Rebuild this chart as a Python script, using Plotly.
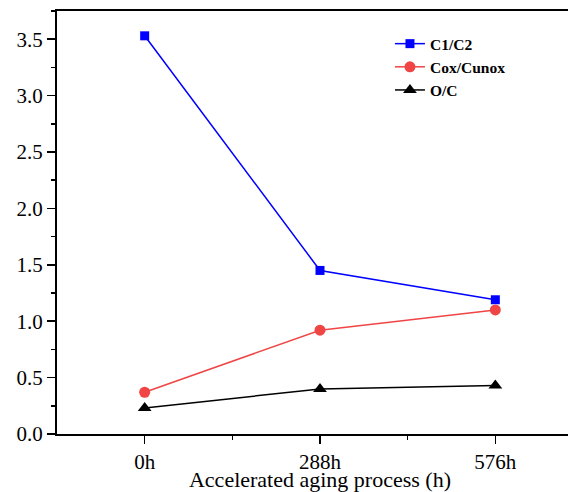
import plotly.graph_objects as go

categories = ["0h", "288h", "576h"]
c1_c2 = [3.53, 1.45, 1.19]
cox_cunox = [0.37, 0.92, 1.10]
o_c = [0.23, 0.40, 0.43]

x = list(range(len(categories)))
FONT = "Times New Roman, Liberation Serif, serif"

fig = go.Figure()
fig.add_trace(go.Scatter(x=x, y=c1_c2, name="C1/C2", mode="lines+markers",
                         line=dict(color="#0000FF", width=1.5),
                         marker=dict(symbol="square", size=9, color="#0000FF")))
fig.add_trace(go.Scatter(x=x, y=cox_cunox, name="Cox/Cunox", mode="lines+markers",
                         line=dict(color="#F04545", width=1.5),
                         marker=dict(symbol="circle", size=11, color="#F04545")))
fig.add_trace(go.Scatter(x=x, y=o_c, name="O/C", mode="lines+markers",
                         line=dict(color="#000000", width=1.5),
                         marker=dict(symbol="triangle-up", size=12, color="#000000")))

fig.update_layout(
    width=575, height=484,
    margin=dict(l=49, r=0, t=3, b=58),
    paper_bgcolor="white", plot_bgcolor="white",
    font=dict(family=FONT, size=20, color="black"),
    showlegend=True, hovermode=False, dragmode=False,
    legend=dict(x=0.633, y=0.962, xanchor="left", yanchor="top",
                font=dict(family=FONT, size=15.5, color="black", weight="bold"),
                bgcolor="rgba(0,0,0,0)", itemwidth=30, tracegroupgap=0),
    xaxis=dict(range=[-0.5, 2.5], tickvals=x, ticktext=categories,
               showgrid=False, zeroline=False, showline=True, linecolor="black",
               linewidth=2, mirror=True, ticks="outside", ticklen=8, tickwidth=1.5,
               tickcolor="black",
               minor=dict(tickvals=[0.5, 1.5], ticks="outside", ticklen=4,
                          tickwidth=1.5, tickcolor="black", showgrid=False),
               title=dict(text="Accelerated aging process (h)", standoff=0,
                          font=dict(family=FONT, size=22)),
               tickfont=dict(family=FONT, size=21)),
    yaxis=dict(range=[0, 3.75], dtick=0.5, tick0=0, tickformat=".1f",
               showgrid=False, zeroline=False, showline=True, linecolor="black",
               linewidth=2, mirror=False, ticks="outside", ticklen=8, tickwidth=1.5,
               tickcolor="black",
               minor=dict(dtick=0.25, ticks="outside", ticklen=4, tickwidth=1.5,
                          tickcolor="black", showgrid=False),
               tickfont=dict(family=FONT, size=21)),
)

fig.write_html("out.html", config={"displayModeBar": False, "staticPlot": True})
